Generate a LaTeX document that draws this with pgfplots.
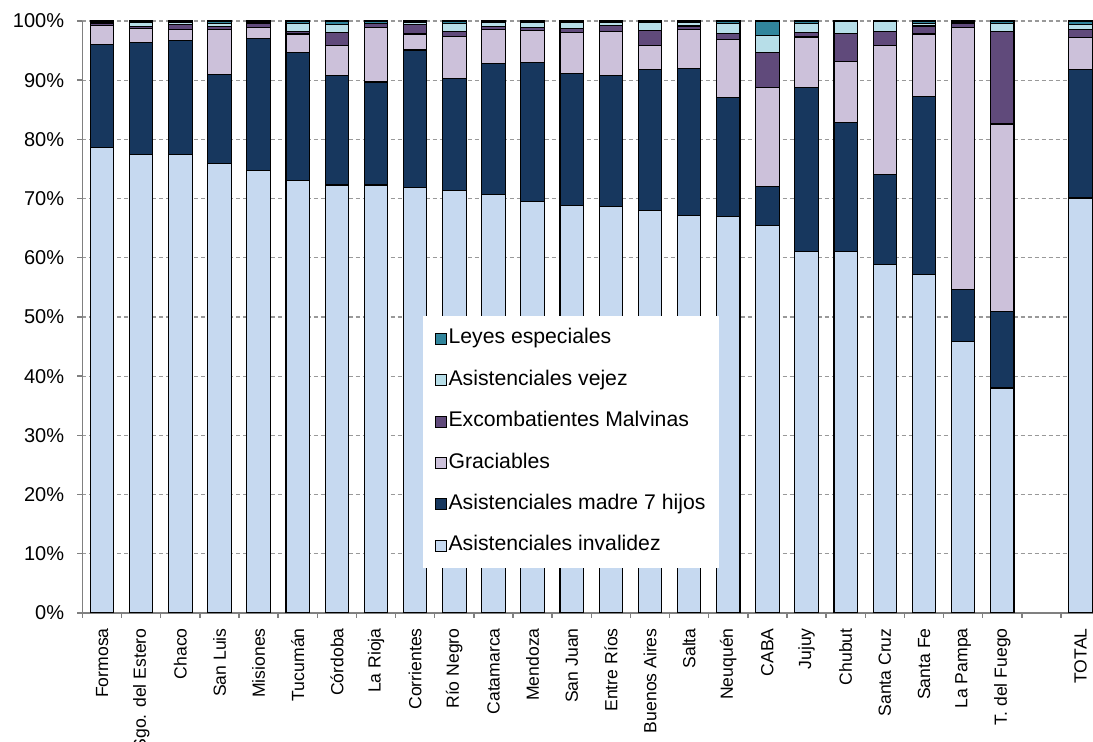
\documentclass[border=0pt]{standalone}
\usepackage{fontspec}
\setmainfont{Liberation Sans}
\usepackage{pgfplots}
\usepackage{pgfplotstable}
\pgfplotsset{compat=1.18}

\definecolor{cInv}{HTML}{C6D9F0}
\definecolor{cMad}{HTML}{17375E}
\definecolor{cGra}{HTML}{CCC1DA}
\definecolor{cMal}{HTML}{604A7B}
\definecolor{cVej}{HTML}{B7DEE8}
\definecolor{cLey}{HTML}{31859C}

% porcentajes por provincia (x = posicion)
\pgfplotstableread{
x   inv   mad    gra   mal   vej   ley
0   78.6  17.5   3.1   0.3   0.3   0.2
1   77.5  18.8   2.5   0.3   0.7   0.2
2   77.5  19.2   1.8   0.9   0.3   0.3
3   76.0  15.0   7.5   0.5   0.6   0.4
4   74.8  22.3   1.8   0.6   0.3   0.2
5   73.0  21.7   3.1   0.45  1.35  0.4
6   72.3  18.5   5.1   2.1   1.35  0.65
7   72.3  17.4   9.2   0.6   0.1   0.4
8   71.9  23.2   2.7   1.6   0.3   0.3
9   71.4  18.9   7.15  0.75  1.4   0.4
10  70.7  22.1   5.8   0.45  0.7   0.25
11  69.5  23.5   5.4   0.55  0.8   0.25
12  68.8  22.3   7.0   0.7   0.9   0.3
13  68.6  22.2   7.4   1.0   0.55  0.25
14  68.0  23.8   4.1   2.55  1.25  0.3
15  67.1  24.85  6.65  0.55  0.55  0.3
16  66.9  20.1   9.8   1.1   1.7   0.4
17  65.5  6.6    16.7  5.9   2.8   2.5
18  61.1  27.7   8.5   0.7   1.55  0.45
19  61.0  21.8   10.4  4.65  2.05  0.1
20  58.9  15.1   21.9  2.3   1.65  0.15
21  57.2  30.1   10.5  1.35  0.45  0.4
22  45.9  8.8    44.2  0.7   0.1   0.3
23  38.0  13.0   31.6  15.6  1.35  0.45
25  70.1  21.7   5.4   1.4   0.85  0.55
}\data

\begin{document}
\begin{tikzpicture}
\begin{axis}[
    at={(41.25pt,64.5pt)}, anchor=south west,
    scale only axis, width=508.8pt, height=296pt,
    ybar stacked, bar width=0.6,
    xmin=-0.5, xmax=25.5, ymin=0, ymax=100,
    axis x line*=bottom, axis y line*=left,
    axis line style={draw=gray, -, line width=0.7pt},
    tick align=outside, major tick length=2.5pt,
    tick style={draw=gray, line width=0.7pt},
    ytick={0,10,...,100},
    yticklabels={0\%,10\%,20\%,30\%,40\%,50\%,60\%,70\%,80\%,90\%,100\%},
    yticklabel style={font=\fontsize{10}{12}\selectfont, inner xsep=6.5pt},
    ymajorgrids, grid style={gray!80, dash pattern=on 2pt off 1.5pt, line width=0.6pt},
    xtick={-0.5,0.5,...,25.5}, xticklabels={},
    extra x ticks={0,1,...,23,25},
    extra x tick labels={Formosa,Sgo. del Estero,Chaco,San Luis,Misiones,Tucumán,Córdoba,La Rioja,Corrientes,Río Negro,Catamarca,Mendoza,San Juan,Entre Ríos,Buenos Aires,Salta,Neuquén,CABA,Jujuy,Chubut,Santa Cruz,Santa Fe,La Pampa,T. del Fuego,TOTAL},
    extra x tick style={major tick length=0pt, grid=none,
        xticklabel style={rotate=90, anchor=east, inner xsep=7.5pt,
        font=\fontsize{8.8}{10}\selectfont}},
    every axis plot/.append style={draw=black, line width=0.55pt},
    reverse legend, legend cell align=left,
    legend style={at={(0.334,0.5017)}, anchor=north west, draw=none, fill=white,
        inner xsep=6pt, inner ysep=5pt, row sep=8.4pt,
        font=\fontsize{10.6}{12}\selectfont,
        nodes={inner sep=1pt, text height=7.8pt, text depth=2.5pt},
        column 2/.style={text width=131pt}},
    legend image code/.code={\draw[#1, draw=black, line width=0.4pt] (0pt,-2.75pt) rectangle (5.5pt,2.75pt);},
]
\addplot[fill=cInv] table[x=x, y=inv] {\data};
\addplot[fill=cMad] table[x=x, y=mad] {\data};
\addplot[fill=cGra] table[x=x, y=gra] {\data};
\addplot[fill=cMal] table[x=x, y=mal] {\data};
\addplot[fill=cVej] table[x=x, y=vej] {\data};
\addplot[fill=cLey] table[x=x, y=ley] {\data};
\legend{Asistenciales invalidez,Asistenciales madre 7 hijos,Graciables,Excombatientes Malvinas,Asistenciales vejez,Leyes especiales}
\end{axis}
\pgfresetboundingbox
\useasboundingbox (0,0) rectangle (546.5pt,371pt);
\end{tikzpicture}
\end{document}
